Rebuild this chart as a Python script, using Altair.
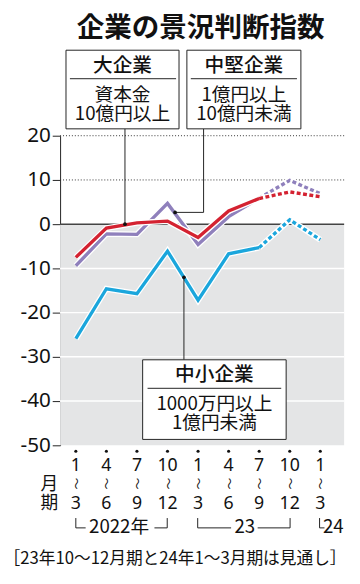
import altair as alt
import pandas as pd

# ---- data ----
quarter_index = [0, 1, 2, 3, 4, 5, 6, 7, 8]
month_from = ["1", "4", "7", "10", "1", "4", "7", "10", "1"]
month_to = ["3", "6", "9", "12", "3", "6", "9", "12", "3"]
large = [-7.5, -0.9, 0.3, 0.7, -3.0, 3.0, 5.8, 7.3, 6.2]
mid = [-9.4, -2.2, -2.3, 4.7, -4.6, 1.7, 5.9, 9.9, 6.9]
small = [-25.9, -14.6, -15.7, -6.1, -17.2, -6.7, -5.3, 1.0, -3.5]
y_ticks = [20, 10, 0, -10, -20, -30, -40, -50]
forecast_from = 6  # index where the forecast (dashed) part begins

# ---- layout ----
W, H = 289, 315
X0, Y0 = 61, 133  # page position of plot origin


def px(x):
    return x - X0


def py(y):
    return y - Y0


JP = "Noto Sans CJK JP"
xs = alt.Scale(domain=[-0.515, 8.78], nice=False, zero=False)
ys = alt.Scale(domain=[-50, 20], nice=False, zero=False)
dummy = pd.DataFrame({"d": [0]})

y_axis = alt.Axis(
    values=y_ticks, title=None, grid=False,
    labelExpr="replace(datum.label, '−', '-')",
    labelFont="Noto Sans", labelFontSize=21, labelColor="#111",
    labelPadding=2, tickSize=8, tickColor="#222", tickWidth=1,
    domainColor="#222", domainWidth=1)

layers = []

# gray background below zero (carries the y axis)
bg = pd.DataFrame({"a": [0], "b": [-50]})
layers.append(
    alt.Chart(bg).mark_rect(color="#e4e5e6").encode(
        x=alt.value(0), x2=alt.value(W),
        y=alt.Y("a:Q", scale=ys, axis=y_axis), y2="b:Q")
)

# dotted gridlines above zero
layers.append(
    alt.Chart(pd.DataFrame({"g": [10, 20]})).mark_rule(
        color="#333", strokeDash=[1, 2], strokeWidth=1).encode(
        x=alt.value(0), x2=alt.value(W),
        y=alt.Y("g:Q", scale=ys))
)
# white gridlines below zero
layers.append(
    alt.Chart(pd.DataFrame({"g": [-10, -20, -30, -40]})).mark_rule(
        color="white", strokeWidth=1.5).encode(
        x=alt.value(0), x2=alt.value(W),
        y=alt.Y("g:Q", scale=ys))
)
# zero line
layers.append(
    alt.Chart(pd.DataFrame({"g": [0]})).mark_rule(
        color="#444", strokeWidth=1.5).encode(
        x=alt.value(0), x2=alt.value(W),
        y=alt.Y("g:Q", scale=ys))
)


def series_layers(values, color):
    solid = pd.DataFrame({"i": quarter_index[:forecast_from + 1],
                          "v": values[:forecast_from + 1]})
    dash = pd.DataFrame({"i": quarter_index[forecast_from:],
                         "v": values[forecast_from:]})
    enc = dict(x=alt.X("i:Q", scale=xs, axis=None),
               y=alt.Y("v:Q", scale=ys))
    return [
        alt.Chart(solid).mark_line(color="white", strokeWidth=6).encode(**enc),
        alt.Chart(dash).mark_line(color="white", strokeWidth=6).encode(**enc),
        alt.Chart(solid).mark_line(color=color, strokeWidth=3.4).encode(**enc),
        alt.Chart(dash).mark_line(color=color, strokeWidth=3.4,
                                  strokeDash=[4, 2.5]).encode(**enc),
    ]


layers += series_layers(small, "#1ba6dc")
layers += series_layers(mid, "#8f80bc")
layers += series_layers(large, "#d42231")


def rect(x1, y1, x2, y2):
    return alt.Chart(dummy).mark_rect(fill="white", stroke="#222", strokeWidth=1).encode(
        x=alt.value(px(x1)), x2=alt.value(px(x2)),
        y=alt.value(py(y1)), y2=alt.value(py(y2)))


def rule(x1, y1, x2, y2, color="#222", w=1):
    return alt.Chart(dummy).mark_rule(color=color, strokeWidth=w).encode(
        x=alt.value(px(x1)), x2=alt.value(px(x2)),
        y=alt.value(py(y1)), y2=alt.value(py(y2)))


def dot(x, y, size=14):
    return alt.Chart(dummy).mark_circle(color="#111", opacity=1, size=size).encode(
        x=alt.value(px(x)), y=alt.value(py(y)))


def txt(t, x, y, size, weight="normal", font=JP, align="center"):
    return alt.Chart(dummy).mark_text(
        text=t, font=font, fontSize=size, fontWeight=weight, color="#111",
        align=align, baseline="middle").encode(
        x=alt.value(px(x)), y=alt.value(py(y)))


# title
layers.append(txt("企業の景況判断指数", 204, 25, 28, "bold"))

# leader lines
layers.append(rule(127, 126, 127, 223))
layers.append(dot(127, 223))
layers.append(rule(207, 126, 207, 211))
layers.append(rule(207, 211, 178, 211))
layers.append(dot(178, 211))
layers.append(rule(187, 361, 187, 277))
layers.append(dot(187, 277))

# box 1 : large
layers.append(rect(67, 46, 182, 126))
layers.append(rule(71, 75, 179, 75))
layers.append(txt("大企業", 124.5, 62, 20, 500))
layers.append(txt("資本金", 124.5, 92, 19))
layers.append(txt("10億円以上", 124.5, 111, 19))

# box 2 : mid
layers.append(rect(190, 46, 306, 126))
layers.append(rule(194, 75, 302, 75))
layers.append(txt("中堅企業", 248, 62, 20, 500))
layers.append(txt("1億円以上", 248, 92, 19))
layers.append(txt("10億円未満", 248, 111, 19))

# box 3 : small
layers.append(rect(145, 361, 291, 442))
layers.append(rule(150, 390, 286, 390))
layers.append(txt("中小企業", 218, 377, 20, 500))
layers.append(txt("1000万円以上", 218, 406, 19))
layers.append(txt("1億円未満", 218, 425, 19))

# x axis labels
xl = pd.DataFrame({"i": quarter_index, "a": month_from, "b": month_to})
xenc = alt.X("i:Q", scale=xs, axis=None)
layers.append(alt.Chart(xl).mark_circle(color="#111", opacity=1, size=10).encode(
    x=xenc, y=alt.value(py(454))))
layers.append(alt.Chart(xl).mark_text(font="Noto Sans", fontSize=18, color="#111",
                                      baseline="middle").encode(
    x=xenc, y=alt.value(py(469)), text="a:N"))
layers.append(alt.Chart(xl).mark_text(font=JP, fontSize=12, color="#111", angle=90,
                                      baseline="middle", text="〜").encode(
    x=xenc, y=alt.value(py(487))))
layers.append(alt.Chart(xl).mark_text(font="Noto Sans", fontSize=18, color="#111",
                                      baseline="middle").encode(
    x=xenc, y=alt.value(py(508)), text="b:N"))
layers.append(txt("月", 50, 488, 18))
layers.append(txt("期", 50, 508, 18))

# year brackets
yb = 532
layers.append(rule(77, 522, 77, yb))
layers.append(rule(77, yb, 87, yb))
layers.append(txt("2022年", 121, 531, 19))
layers.append(rule(157, yb, 170, yb))
layers.append(rule(170, 522, 170, yb))
layers.append(rule(201, 522, 201, yb))
layers.append(rule(201, yb, 235, yb))
layers.append(txt("23", 249, 531, 19))
layers.append(rule(262, yb, 295, yb))
layers.append(rule(295, 522, 295, yb))
layers.append(rule(325, 522, 325, yb))
layers.append(rule(325, yb, 330, yb))
layers.append(txt("24", 339, 531, 19))

# footnote
layers.append(txt("［23年10〜12月期と24年1〜3月期は見通し］", 178, 564, 17))

chart = alt.layer(*layers).properties(
    width=W, height=H,
    autosize=alt.AutoSizeParams(type="none"),
    padding={"left": 53, "top": 125, "right": 8, "bottom": 127},
).configure_view(stroke=None)

chart.save("out.html", embed_options={"renderer": "svg", "actions": False})
